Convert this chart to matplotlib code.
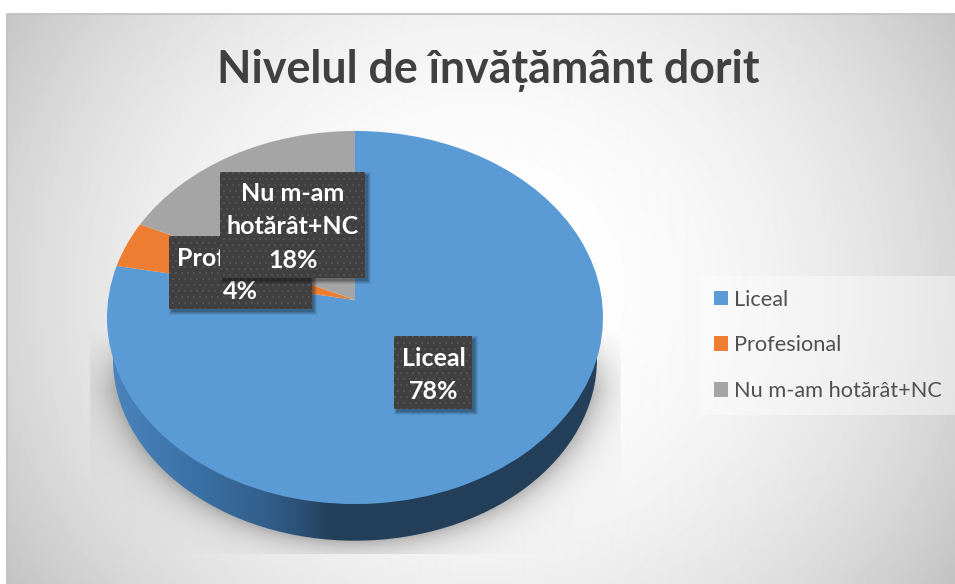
import numpy as np
import matplotlib
matplotlib.use('Agg')
import matplotlib.pyplot as plt
from matplotlib.patches import Ellipse, Rectangle
from matplotlib.transforms import Transform
from matplotlib.colors import LinearSegmentedColormap

plt.rcParams['font.family'] = ['Lato', 'DejaVu Sans']

title = 'Nivelul de învățământ dorit'
categories = ['Liceal', 'Profesional', 'Nu m-am hotărât+NC']
values = [78, 4, 18]
colors = ['#5b9bd5', '#ed7d31', '#a5a5a5']
label_texts = ['Liceal\n78%', 'Profesional\n4%', 'Nu m-am\nhotărât+NC\n18%']

W, H = 955, 584
fig = plt.figure(figsize=(W / 100, H / 100), dpi=100)
ax = fig.add_axes([0, 0, 1, 1])


# tilted pie: unit circle -> pixels, with a bit of perspective
class Tilt(Transform):
    input_dims = 2
    output_dims = 2
    is_separable = False
    has_inverse = False

    def transform_non_affine(self, values):
        values = np.asarray(values)
        d = 1 + 0.0938 * values[:, 1]
        return np.column_stack([355 + 246.9 * values[:, 0] / d,
                                300 - 184.9 * values[:, 1] / d])


# background with the radial fill and the pie's soft shadow
yy, xx = np.mgrid[14:H, 7:W] + 0.5
r = np.sqrt(((xx - 480) / 480) ** 2 + ((yy - 290) / 450) ** 2) / 1.18
bg = 255 - 60 * np.clip(r, 0, 1) ** 2.2
d = (np.sqrt(((xx - 355) / 242) ** 2 + ((yy - 358.7) / 182) ** 2) - 1) * 215
fade = np.clip((yy - 330) / 60, 0, 1)
shade = 1 - 0.26 * np.exp(-np.clip(d, 0, None) / 16) * fade
shade[(xx < 90) | (xx > 620) | (yy > 554)] = 1
ax.imshow(bg * shade, extent=(7, W, H, 14), cmap='gray', vmin=0, vmax=255,
          aspect='auto', zorder=0, interpolation='bilinear')
ax.plot([7, 7, W], [H, 14, 14], color='#bfbfbf', lw=1.2, zorder=1)

# side wall of the pie
wall = LinearSegmentedColormap.from_list('wall', [(0, '#4b84bc'), (0.18, '#3a70a5'), (0.31, '#33608c'),
                                                  (0.38, '#2c5278'), (0.45, '#243f5a'), (1, '#243f5a')])
im = ax.imshow(np.linspace(0, 1, 256).reshape(1, -1), extent=(110, 600, 545, 300), cmap=wall,
               aspect='auto', zorder=2)
im.set_clip_path(Ellipse((355, 358.7), 484, 364, transform=ax.transData))

wedges, _ = ax.pie(values, colors=colors, startangle=90, counterclock=False)
for w in wedges:
    w.set_transform(Tilt() + ax.transData)
    w.set_zorder(3)
    w.set_linewidth(0)


def label_box(x0, x1, y0, y1, z):
    # shadow first, then the dotted dark box
    for grow, a in zip([3, 2, 1, 0], [0.07, 0.09, 0.12, 0.14]):
        ax.add_patch(Rectangle((x0 + 3 - grow, y0 + 3 - grow), x1 - x0 + 2 * grow, y1 - y0 + 2 * grow,
                               fc='black', ec='none', alpha=a, zorder=z))
    h, w = int(y1 - y0), int(x1 - x0)
    py, px = np.mgrid[0:h, 0:w]
    dots = ((px % 6 < 2) & (py % 12 < 2)) | (((px + 3) % 6 < 2) & ((py + 6) % 12 < 2))
    ax.imshow(np.where(dots, 82, 64), extent=(x0, x1, y1, y0), cmap='gray', vmin=0, vmax=255,
              aspect='auto', zorder=z, interpolation='nearest')


label_box(394, 472, 336, 409, 4)
ax.text(433.5, 375, label_texts[0], color='white', fontsize=18, fontweight='bold', ha='center', va='center',
        linespacing=1.55, zorder=4.5)
label_box(169, 311, 236, 309, 5)
ax.text(240, 275, label_texts[1], color='white', fontsize=18, fontweight='bold', ha='center', va='center',
        linespacing=1.55, zorder=5.5)
label_box(220, 365, 172, 278, 6)
ax.text(293, 227, label_texts[2], color='white', fontsize=18, fontweight='bold', ha='center', va='center',
        linespacing=1.53, zorder=6.5)

ax.text(488, 70, title, color='#404040', fontsize=32.2, fontweight='bold', ha='center', va='center', zorder=7)

leg = ax.legend(wedges, categories, loc='upper left', bbox_to_anchor=(700, 276), bbox_transform=ax.transData,
                fontsize=15.7, frameon=True, facecolor='white', framealpha=0.4, edgecolor='none', fancybox=False,
                labelcolor='#505050', handlelength=0.66, handleheight=0.66, handletextpad=0.26,
                labelspacing=1.19, borderaxespad=0, borderpad=0.62)
leg.set_zorder(7)

ax.set_xlim(0, W)
ax.set_ylim(H, 0)
ax.set_aspect('auto')
ax.axis('off')
fig.savefig('out.png', dpi=100, facecolor='white')
